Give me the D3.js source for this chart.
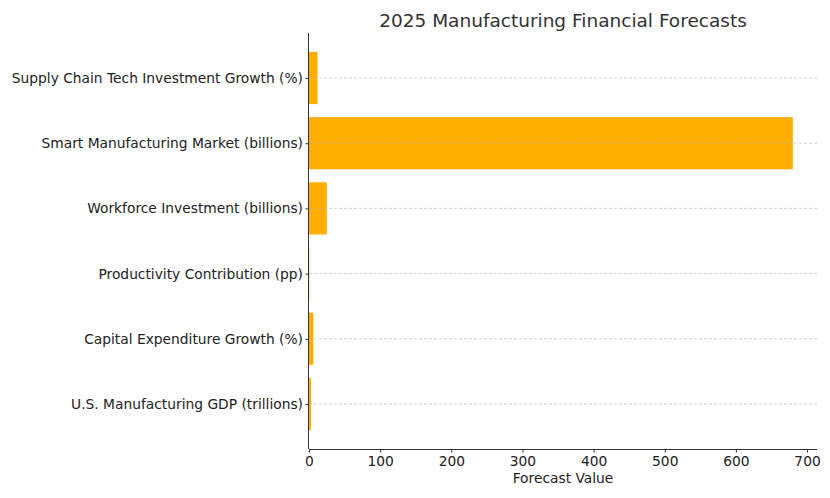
<!DOCTYPE html>
<html><head><meta charset="utf-8">
<script src="https://cdn.jsdelivr.net/npm/d3@7"></script>
<style>body{margin:0;background:#fff}svg{display:block;font-family:"DejaVu Sans",sans-serif}</style>
</head><body><svg id="c" width="830" height="498"></svg>
<script>
const categories = ["U.S. Manufacturing GDP (trillions)","Capital Expenditure Growth (%)","Productivity Contribution (pp)","Workforce Investment (billions)","Smart Manufacturing Market (billions)","Supply Chain Tech Investment Growth (%)"];
const values = [2.8, 6, 0.5, 25, 680, 12];
const xTicks = [0,100,200,300,400,500,600,700];

const svg = d3.select("#c");
const L = 309, R = 817, T = 33, B = 449;
const x = d3.scaleLinear().domain([0, d3.max(values)*1.05]).range([L, R]);
const y = d3.scaleLinear().domain([-0.69, 5.69]).range([B, T]);
const bh = y(0) - y(0.8);

// bars
svg.append("g").selectAll("rect").data(values).join("rect")
  .attr("x", x(0)).attr("y", (d,i)=>y(i)-bh/2)
  .attr("width", d=>x(d)-x(0)).attr("height", bh)
  .attr("fill", "#ffae00");

// grid
svg.append("g").selectAll("line").data(categories).join("line")
  .attr("x1", L).attr("x2", R).attr("y1",(d,i)=>y(i)).attr("y2",(d,i)=>y(i))
  .attr("stroke","#b0b0b0").attr("stroke-width",0.8).attr("stroke-dasharray","3,2").attr("opacity",0.7);

// x axis
const xa = svg.append("g").attr("transform",`translate(0,${B})`)
  .call(d3.axisBottom(x).tickValues(xTicks).tickSize(3.5).tickPadding(3.5));
xa.select(".domain").attr("stroke","#333").attr("stroke-width",1).attr("d",`M${L},0.5H${R}`);
xa.selectAll(".tick line").attr("stroke","#333");
xa.selectAll(".tick text").attr("font-size",13.8).attr("fill","#222").attr("font-family","DejaVu Sans");

// y axis
const ya = svg.append("g").attr("transform",`translate(${L},0)`)
  .call(d3.axisLeft(y).tickValues(d3.range(categories.length)).tickFormat(i=>categories[i]).tickSize(3.5).tickPadding(2.5));
ya.select(".domain").attr("stroke","#333").attr("stroke-width",1).attr("d",`M-0.5,${T}V${B}`);
ya.selectAll(".tick line").attr("stroke","#333");
ya.selectAll(".tick text").attr("font-size",13.8).attr("fill","#222").attr("font-family","DejaVu Sans");

svg.append("text").attr("x",(L+R)/2).attr("y",27).attr("text-anchor","middle")
  .attr("font-size",18.5).attr("fill","#333").text("2025 Manufacturing Financial Forecasts");
svg.append("text").attr("x",(L+R)/2).attr("y",483).attr("text-anchor","middle")
  .attr("font-size",13.8).attr("fill","#222").text("Forecast Value");
</script></body></html>
